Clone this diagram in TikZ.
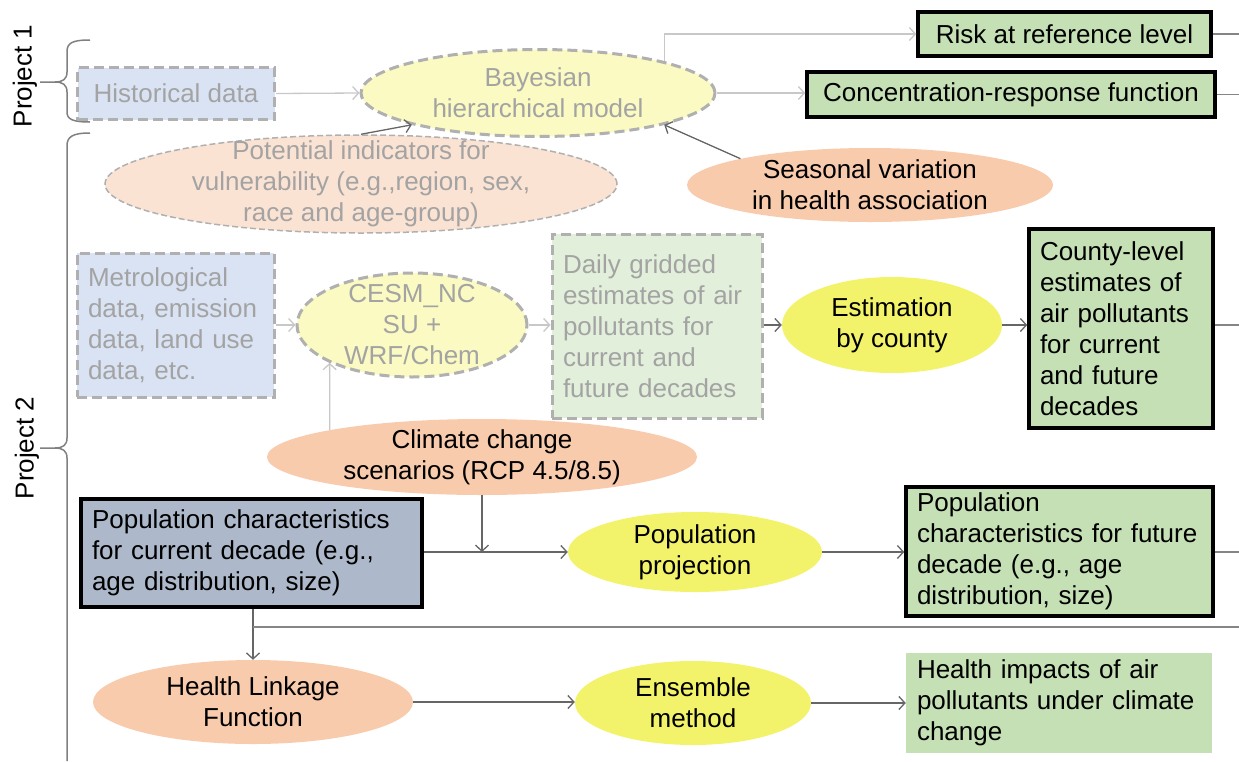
\documentclass[tikz,border=0pt]{standalone}
\usepackage{fontspec}
\setmainfont{Liberation Sans}
\usetikzlibrary{shapes.geometric,arrows.meta}
\definecolor{fadeblue}{HTML}{DAE3F3}
\definecolor{fadeyellow}{HTML}{FAFAC2}
\definecolor{fadegreen}{HTML}{E2EFDA}
\definecolor{fadepink}{HTML}{FBE3D4}
\definecolor{fadetext}{HTML}{A3A3A3}
\definecolor{dashgray}{HTML}{B0B0B0}
\definecolor{orangefill}{HTML}{F8CBAD}
\definecolor{yellowfill}{HTML}{F3F36B}
\definecolor{greenfill}{HTML}{C5E0B4}
\definecolor{bluegray}{HTML}{ADB9CA}
\definecolor{lightline}{HTML}{C8C8C8}
\definecolor{darkline}{HTML}{666666}
\begin{document}
\begin{tikzpicture}[x=1pt, y=-1pt, >={Straight Barb[length=6pt,width=13pt]},
  every node/.style={font=\fontsize{26}{31}\selectfont},
  fadebox/.style={rectangle, draw=dashgray, line width=3pt, dash pattern=on 10pt off 5pt,
    text=fadetext, inner xsep=11pt, align=left},
  fadeell/.style={ellipse, draw=dashgray, line width=3pt, dash pattern=on 10pt off 5pt,
    fill=fadeyellow, text=fadetext, align=center, inner sep=-12pt},
  solidell/.style={ellipse, align=center, inner sep=-12pt},
  resultbox/.style={rectangle, draw=black, line width=3.5pt, fill=greenfill, inner xsep=11pt, align=left},
  fadearrow/.style={->, draw=lightline, line width=1.3pt},
  darkarrow/.style={->, draw=darkline, line width=1.3pt},
  outline/.style={draw=darkline!80, line width=1.3pt},
  bracepath/.style={draw=gray, line width=1.5pt}
]
\useasboundingbox (0,0) rectangle (1239,761);

% project labels and braces
\node[rotate=90] (proj1) at (25,76) {Project 1};
\node[rotate=90] (proj2) at (27,448) {Project 2};
\draw[bracepath] (90,40) .. controls (72,40) and (67,43) .. (67,52) -- (67,72)
  .. controls (67,79) and (63,82) .. (55,82) -- (40,82);
\draw[bracepath] (55,82) .. controls (63,82) and (67,85) .. (67,92) -- (67,112)
  .. controls (67,119) and (72,122) .. (90,122);
\draw[bracepath] (90,133) .. controls (72,133) and (67,137) .. (67,146) -- (67,438)
  .. controls (67,445) and (63,448) .. (55,448) -- (40,448);
\draw[bracepath] (55,448) .. controls (63,448) and (67,451) .. (67,458) -- (67,761);

% project 1
\node[fadebox, fill=fadeblue, align=center, minimum width=197pt, minimum height=52pt] (hist) at (176,93.5) {Historical data};
\node[fadeell, minimum width=354pt, minimum height=87pt] (bayes) at (538,93) {Bayesian\\hierarchical model};
\node[resultbox, align=center, minimum width=293pt, minimum height=44pt] (risk) at (1064.5,34) {Risk at reference level};
\node[resultbox, align=center, minimum width=408pt, minimum height=45pt] (crf) at (1011,94.5) {Concentration-response function};
\node[solidell, draw=dashgray, line width=1.5pt, dash pattern=on 6pt off 3pt, fill=fadepink, text=fadetext,
  minimum width=512pt, minimum height=98pt] (vuln) at (361,184)
  {Potential indicators for\\vulnerability (e.g.,region, sex,\\race and age-group)};
\node[solidell, fill=orangefill, minimum width=366pt, minimum height=74pt] (season) at (870,185)
  {Seasonal variation\\in health association};

% project 2
\node[fadebox, fill=fadeblue, text width=175pt, minimum height=144pt] (meteo) at (175.5,325)
  {Metrological\\data, emission\\data, land use\\data, etc.};
\node[fadeell, minimum width=230pt, minimum height=104pt] (cesm) at (412,325) {CESM\_NC\\SU +\\WRF/Chem};
\node[fadebox, fill=fadegreen, text width=188pt, minimum height=184pt] (daily) at (657,326)
  {Daily gridded\\estimates of air\\pollutants for\\current and\\future decades};
\node[solidell, fill=yellowfill, minimum width=220pt, minimum height=96pt] (estim) at (892,325) {Estimation\\by county};
\node[resultbox, text width=162pt, minimum height=199pt] (county) at (1121,328.5)
  {County-level\\estimates of\\air pollutants\\for current\\and future\\decades};
\node[solidell, fill=orangefill, minimum width=430pt, minimum height=76pt] (climate) at (482,457)
  {Climate change\\scenarios (RCP 4.5/8.5)};
\node[resultbox, fill=bluegray, text width=319pt, minimum height=108pt] (popcur) at (251.5,553)
  {Population characteristics\\for current decade (e.g.,\\age distribution, size)};
\node[solidell, fill=yellowfill, minimum width=254pt, minimum height=80pt] (popproj) at (695,552) {Population\\projection};
\node[resultbox, text width=285pt, minimum height=129pt] (popfut) at (1059.5,551.5)
  {Population\\characteristics for future\\decade (e.g., age\\distribution, size)};
\node[solidell, fill=orangefill, minimum width=320pt, minimum height=84pt] (health) at (253,702) {Health Linkage\\Function};
\node[solidell, fill=yellowfill, minimum width=236pt, minimum height=84pt] (ensemble) at (693,703) {Ensemble\\method};
\node[rectangle, fill=greenfill, inner xsep=11pt, align=left, text width=284pt, minimum height=100pt] (impact) at (1059,703)
  {Health impacts of air\\pollutants under climate\\change};

\coordinate (edge) at (1239,0);
\coordinate (split) at (253,627);

% connectors
\draw[fadearrow] (hist.east) -- (bayes.west);
\draw[fadearrow] (bayes.north east) |- (risk.west);
\draw[fadearrow] (bayes.east) -- (crf.west |- bayes.east);
\draw[darkarrow] (vuln.north) -- (bayes.south west);
\draw[darkarrow] (season.north west) -- (bayes.south east);
\draw[fadearrow] (meteo.east |- cesm.west) -- (cesm.west);
\draw[fadearrow] (cesm.east) -- (daily.west |- cesm.east);
\draw[fadearrow] (climate.north west) -- (cesm.south west);
\draw[darkarrow] (daily.east |- estim.west) -- (estim.west);
\draw[darkarrow] (estim.east) -- (county.west |- estim.east);
\draw[darkarrow] (popcur.east |- popproj.west) -- (popproj.west);
\draw[darkarrow] (climate.south) -- (climate.south |- popproj.west);
\draw[darkarrow] (popproj.east) -- (popfut.west |- popproj.east);
\draw[darkarrow] (popcur.south -| health.north) -- (health.north);
\draw[outline] (split) -- (split -| edge);
\draw[darkarrow] (health.east) -- (ensemble.west |- health.east);
\draw[darkarrow] (ensemble.east) -- (impact.west |- ensemble.east);

% lines leaving to the right
\draw[outline] (risk.east) -- (risk.east -| edge);
\draw[outline] (crf.east) -- (crf.east -| edge);
\draw[outline] (county.east |- estim.east) -- (estim.east -| edge);
\draw[outline] (popfut.east |- popproj.east) -- (popproj.east -| edge);
\end{tikzpicture}
\end{document}
